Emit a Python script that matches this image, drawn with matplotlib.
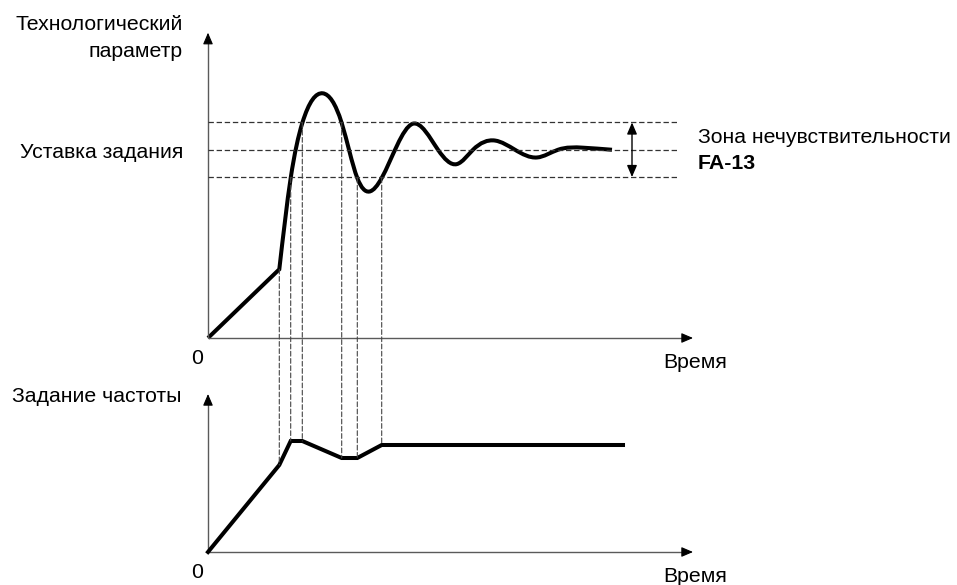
import numpy as np
import matplotlib
matplotlib.use("Agg")
import matplotlib.pyplot as plt
from matplotlib.path import Path
from matplotlib.patches import PathPatch, ConnectionPatch

plt.rcParams['font.family'] = ['Liberation Sans', 'DejaVu Sans']

# ---------------- data ----------------
# Process parameter (top chart): time, value (setpoint = 100)
setpoint = 100.0
deadband = 14.5
pv_time = [0.0, 7.13, 8.27, 9.43, 11.47, 13.37, 14.93, 16.13,
           17.37, 20.47, 23.0, 24.9, 26.5, 28.7, 30.7, 32.9, 35.0, 37.5, 40.4]
pv_value = [0.0, 36.5, 85.0, 114.2, 130.0, 114.2, 85.0, 77.8,
            85.0, 113.8, 100.0, 92.4, 100.0, 104.9, 100.0, 95.9, 100.0, 101.1, 100.0]

# Frequency reference (bottom chart)
f_time = [0.0, 7.13, 8.27, 9.43, 13.37, 14.93, 17.37, 41.5]
f_value = [0.0, 43.5, 55.5, 55.5, 47.0, 47.0, 53.5, 53.5]

# Vertical guide lines linking both charts
guide_time = [7.13, 8.27, 9.43, 13.37, 14.93, 17.37]
guide_top = [36.5, 85.0, 114.2, 114.2, 85.0, 85.0]
guide_bot = [43.5, 55.5, 55.5, 47.0, 47.0, 53.5]

band_end = 47.0
band_arrow_t = 42.4
axis_x_end = 48.5
top_y_end = 162.2
bot_y_end = 79.0

W, H = 957, 585
fig = plt.figure(figsize=(W / 100, H / 100), dpi=100)

def px_axes(left, bottom_px, width, height):
    return fig.add_axes([left / W, (H - bottom_px) / H, width / W, height / H])

ax_top = px_axes(208, 338, 500, 320)
ax_top.set_xlim(0, 50)
ax_top.set_ylim(0, 170)
ax_bot = px_axes(208, 552, 500, 160)
ax_bot.set_xlim(0, 50)
ax_bot.set_ylim(0, 80)
for ax in (ax_top, ax_bot):
    ax.axis('off')

axis_col = '#5a5a5a'

def draw_axes(ax, xend, yend):
    ax.plot([0, xend - 0.8], [0, 0], color=axis_col, lw=1.0, clip_on=False, solid_capstyle='butt')
    ax.annotate('', xy=(xend, 0), xytext=(xend - 1.0, 0),
                arrowprops=dict(arrowstyle='-|>,head_length=0.7,head_width=0.3', color='black', lw=0.8,
                                shrinkA=0, shrinkB=0), annotation_clip=False)
    ylim = ax.get_ylim()[1]
    dy = ylim / (ax.get_position().height * H) * 10
    ax.plot([0, 0], [0, yend - dy * 0.8], color=axis_col, lw=1.0, clip_on=False, solid_capstyle='butt')
    ax.annotate('', xy=(0, yend), xytext=(0, yend - dy),
                arrowprops=dict(arrowstyle='-|>,head_length=0.7,head_width=0.3', color='black', lw=0.8,
                                shrinkA=0, shrinkB=0), annotation_clip=False)

draw_axes(ax_top, axis_x_end, top_y_end)
draw_axes(ax_bot, axis_x_end, bot_y_end)

dash = (0, (4.3, 2.2))
for lvl in (setpoint + deadband, setpoint, setpoint - deadband):
    ax_top.plot([0, band_end], [lvl, lvl], color='#333333', lw=0.9, linestyle=dash, clip_on=False)

# smooth C2 curve (natural cubic spline as Bezier segments) after the straight ramp
t = np.array(pv_time[1:])
v = np.array(pv_value[1:])
n = len(t)
h = np.diff(t)
d = np.diff(v) / h
A = np.zeros((n, n))
b = np.zeros(n)
A[0, 0], A[0, 1], b[0] = 2, 1, 3 * d[0]
A[-1, -2], A[-1, -1], b[-1] = 1, 2, 3 * d[-1]
for i in range(1, n - 1):
    A[i, i - 1] = 1 / h[i - 1]
    A[i, i] = 2 * (1 / h[i - 1] + 1 / h[i])
    A[i, i + 1] = 1 / h[i]
    b[i] = 3 * (d[i - 1] / h[i - 1] + d[i] / h[i])
m = np.linalg.solve(A, b)

verts = [(pv_time[0], pv_value[0]), (t[0], v[0])]
codes = [Path.MOVETO, Path.LINETO]
for i in range(n - 1):
    dt = h[i]
    verts += [(t[i] + dt / 3, v[i] + m[i] * dt / 3),
              (t[i + 1] - dt / 3, v[i + 1] - m[i + 1] * dt / 3),
              (t[i + 1], v[i + 1])]
    codes += [Path.CURVE4] * 3
ax_top.add_patch(PathPatch(Path(verts, codes), fill=False, lw=2.9, edgecolor='black',
                           joinstyle='miter', capstyle='butt', clip_on=False))

ax_bot.plot(f_time, f_value, color='black', lw=2.9, solid_joinstyle='miter', clip_on=False)

for gt, gtop, gb in zip(guide_time, guide_top, guide_bot):
    con = ConnectionPatch(xyA=(gt, gtop), coordsA=ax_top.transData,
                          xyB=(gt, gb), coordsB=ax_bot.transData,
                          color='#444444', lw=0.8, linestyle=(0, (4.3, 2.2)))
    fig.add_artist(con)

# dead-band double arrow
ax_top.annotate('', xy=(band_arrow_t, setpoint + deadband), xytext=(band_arrow_t, setpoint - deadband),
                arrowprops=dict(arrowstyle='<|-|>,head_length=0.7,head_width=0.3', color='black', lw=1.0,
                                shrinkA=0, shrinkB=0), annotation_clip=False)

fs = 15.3
def ptext(x, y, s, **kw):
    fig.text(x / W, 1 - y / H, s, fontsize=fs, va='baseline', **kw)

ptext(183, 30, 'Технологический', ha='right')
ptext(183, 57, 'параметр', ha='right')
ptext(183, 158, 'Уставка задания', ha='right')
ptext(197, 364, '0', ha='center')
ptext(663, 368, 'Время', ha='left')
ptext(12, 402, 'Задание частоты', ha='left')
ptext(197, 578, '0', ha='center')
ptext(663, 582, 'Время', ha='left')
ptext(698, 143, 'Зона нечувствительности', ha='left')
ptext(698, 169, 'FA-13', ha='left', fontweight='bold')

fig.savefig('out.png', dpi=100)
